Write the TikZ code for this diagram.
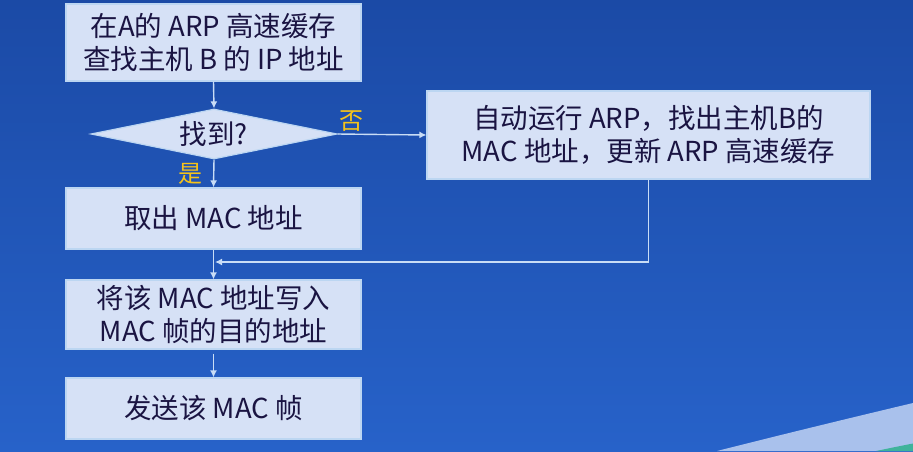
\documentclass[tikz,border=0pt]{standalone}
\usepackage{fontspec}
\setmainfont{Noto Sans CJK SC}
\usetikzlibrary{shapes.geometric,arrows.meta}
\definecolor{bgtop}{HTML}{1B4AA6}
\definecolor{bgbot}{HTML}{2762C9}
\definecolor{boxfill}{HTML}{D6E1F6}
\definecolor{boxline}{HTML}{BCD6F2}
\definecolor{txt}{HTML}{1A1442}
\definecolor{arrowc}{HTML}{C9DDF6}
\definecolor{lightwave}{HTML}{A9C1EC}
\definecolor{tealwave}{HTML}{3FB39B}
\definecolor{labelc}{HTML}{F5C31A}
\tikzset{
  stepbox/.style={draw=boxline, line width=1.2pt, fill=boxfill, text=txt, inner sep=0pt,
    align=center, font=\fontsize{27.5}{33}\selectfont},
  decbox/.style={diamond, draw=boxline, line width=1.2pt, fill=boxfill, text=txt, inner sep=0pt,
    minimum width=246pt, minimum height=50pt, aspect=4.92, font=\fontsize{27.5}{33}\selectfont},
  arr/.style={draw=arrowc, line width=1.4pt, -{Latex[length=7pt,width=7pt]}},
  lbl/.style={text=labelc, font=\fontsize{24}{28}\selectfont, inner sep=0pt}
}
\begin{document}
\begin{tikzpicture}[x=1pt,y=-1pt]
\useasboundingbox (0,0) rectangle (913,451);
\shade[top color=bgtop, bottom color=bgbot] (0,0) rectangle (913,451);
\fill[lightwave] (717,451) .. controls (780,435) and (850,418) .. (913,403) -- (913,451) -- cycle;
\fill[tealwave] (876,451) .. controls (888,448.5) and (900,446) .. (913,443.5) -- (913,451) -- cycle;

\node[stepbox, minimum width=295pt, minimum height=77pt] (b1) at (213.5,42.5) {在A的 ARP 高速缓存\\查找主机 B 的 IP 地址};
\node[decbox] (d) at (214,134) {找到?};
\node[stepbox, minimum width=295pt, minimum height=61pt] (b2) at (213.5,218.5) {取出 MAC 地址};
\node[stepbox, minimum width=443pt, minimum height=88pt] (r) at (648.5,135) {自动运行 ARP，找出主机B的\\MAC 地址，更新 ARP 高速缓存};
\node[stepbox, minimum width=295pt, minimum height=69pt] (b3) at (213.5,314.5) {将该 MAC 地址写入\\MAC 帧的目的地址};
\node[stepbox, minimum width=295pt, minimum height=61pt] (b4) at (213.5,408.5) {发送该 MAC 帧};

\node[lbl] (no) at (351,121) {否};
\node[lbl] (yes) at (190,174) {是};

\coordinate (join) at (215,262);

\draw[arr] (b1.south) -- (d.north);
\draw[arr] (d.south) -- (b2.north);
\draw[arr] (d.east) -- (r.west);
\draw[arr] (b2.south) -- (b3.north);
\draw[arr, shorten <=4pt] (b3.south) -- (b4.north);
\draw[arr] (r.south) |- (join);
\end{tikzpicture}
\end{document}
